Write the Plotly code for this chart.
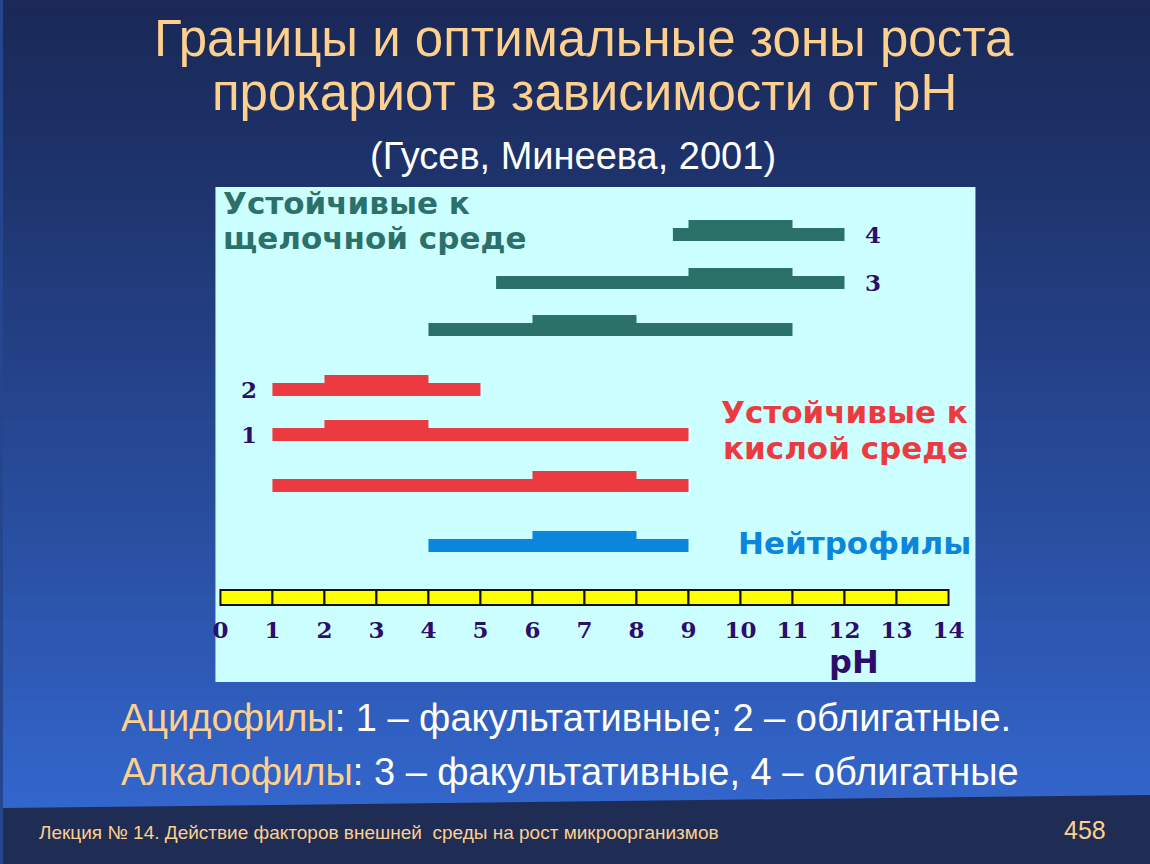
import plotly.graph_objects as go

W, H = 1150, 864

# pH ranges: full growth range and optimum zone, top row first
groups = ["alk4", "alk3", "alk", "acid2", "acid1", "acid", "neutro"]
range_lo = [8.7, 5.3, 4.0, 1.0, 1.0, 1.0, 4.0]
range_hi = [12.0, 12.0, 11.0, 5.0, 9.0, 9.0, 9.0]
opt_lo = [9.0, 9.0, 6.0, 2.0, 2.0, 6.0, 6.0]
opt_hi = [11.0, 11.0, 8.0, 4.0, 4.0, 8.0, 8.0]
row_labels = ["4", "3", "", "2", "1", "", ""]
ph_ticks = list(range(0, 15))

TEAL = "#2c7169"
RED = "#ec3b40"
BLUE = "#0b86dc"
PURPLE = "#2e0c6c"
PEACH = "#fdd08e"

colors = [TEAL, TEAL, TEAL, RED, RED, RED, BLUE]
# bottom edge of each row (y axis runs in screen pixels, top = 0)
row_bottom = [241, 289, 336, 396, 441, 492, 552]
THIN, THICK = 13, 21


def px(x):
    return x / W


def py(y):
    return 1 - y / H


shapes = []
# background gradient, dark navy on top to blue at the bottom
n = 60
top_c, bot_c = (26, 41, 88), (51, 102, 204)
for i in range(n):
    t = (i / (n - 1)) ** 1.1
    c = tuple(int(a + (b - a) * t) for a, b in zip(top_c, bot_c))
    shapes.append(dict(type="rect", xref="paper", yref="paper", layer="below",
                       x0=0, x1=1, y0=py(810 * (i + 1) / n + 1), y1=py(810 * i / n),
                       fillcolor="rgb(%d,%d,%d)" % c, line=dict(width=0)))
# footer band with slanted top
shapes.append(dict(type="path", xref="paper", yref="paper", layer="below",
                   path="M 0 %f L 1 %f L 1 0 L 0 0 Z" % (py(808), py(795)),
                   fillcolor="#1f2d55", line=dict(width=0)))
# chart panel
shapes.append(dict(type="rect", xref="paper", yref="paper", layer="below",
                   x0=px(213), x1=px(975), y0=py(682), y1=py(187),
                   fillcolor="#ccffff", line=dict(width=0)))

fig = go.Figure()

# full growth range (thin)
fig.add_trace(go.Bar(
    orientation="h",
    y=[b - THIN / 2 for b in row_bottom],
    x=[h - l for l, h in zip(range_lo, range_hi)],
    base=range_lo,
    width=THIN,
    marker=dict(color=colors, line=dict(width=0)),
    showlegend=False, hoverinfo="skip",
))
# optimum zone (thick)
fig.add_trace(go.Bar(
    orientation="h",
    y=[b - THICK / 2 for b in row_bottom],
    x=[h - l for l, h in zip(opt_lo, opt_hi)],
    base=opt_lo,
    width=THICK,
    marker=dict(color=colors, line=dict(width=0)),
    showlegend=False, hoverinfo="skip",
))
# pH ruler
fig.add_trace(go.Bar(
    orientation="h",
    y=[597.5] * (len(ph_ticks) - 1),
    x=[1] * (len(ph_ticks) - 1),
    base=ph_ticks[:-1],
    width=15,
    marker=dict(color="#ffff00", line=dict(color="#111111", width=2)),
    showlegend=False, hoverinfo="skip",
))

ann = []
for lab, lo, hi, b in zip(row_labels, range_lo, range_hi, row_bottom):
    if not lab:
        continue
    xpos = hi + 0.55 if lo > 5 else lo - 0.45
    ann.append(dict(x=xpos, y=b - 6, xref="x", yref="y", text="<b>%s</b>" % lab,
                    showarrow=False, yanchor="middle",
                    font=dict(family="DejaVu Serif", size=23, color=PURPLE)))

sans = "Liberation Sans"
bold = "DejaVu Sans"


def note(x, y, text, size, color, family=sans, xanchor="center"):
    ann.append(dict(x=px(x), y=py(y), xref="paper", yref="paper", showarrow=False,
                    xanchor=xanchor, yanchor="middle", text=text,
                    font=dict(family=family, size=size, color=color)))


note(583, 38, "Границы и оптимальные зоны роста", 51, PEACH)
note(583, 93, "прокариот в зависимости от pH", 51, PEACH)
note(571, 156, "(Гусев, Минеева, 2001)", 38, "white")
note(219, 203, "<b>Устойчивые к</b>", 31, TEAL, bold, "left")
note(219, 238, "<b>щелочной среде</b>", 31, TEAL, bold, "left")
note(970, 412, "<b>Устойчивые к</b>", 31, RED, bold, "right")
note(970, 448, "<b>кислой среде</b>", 31, RED, bold, "right")
note(973, 543, "<b>Нейтрофилы</b>", 31, BLUE, bold, "right")
note(853, 662, "<b>pH</b>", 32, PURPLE, bold)
note(116, 718, "<span style='color:%s'>Ацидофилы</span>: 1 – факультативные; 2 – облигатные." % PEACH,
     38, "white", xanchor="left")
note(116, 772, "<span style='color:%s'>Алкалофилы</span>: 3 – факультативные, 4 – облигатные" % PEACH,
     38, "white", xanchor="left")
note(34, 832, "Лекция № 14. Действие факторов внешней  среды на рост микроорганизмов",
     19, PEACH, xanchor="left")
note(1108, 830, "458", 25, PEACH, xanchor="right")

# x axis: pH 0 sits at px 218, pH 14 at px 948
unit = (948 - 218) / 14
fig.update_layout(
    width=W, height=H,
    margin=dict(l=0, r=0, t=0, b=0),
    paper_bgcolor="#26458f",
    plot_bgcolor="rgba(0,0,0,0)",
    barmode="overlay",
    shapes=shapes,
    annotations=ann,
    xaxis=dict(domain=[px(213), px(975)],
               range=[-(218 - 213) / unit, 14 + (975 - 948) / unit],
               tickvals=ph_ticks, ticks="", showgrid=False, zeroline=False, showline=False,
               anchor="free", position=py(614),
               tickfont=dict(family="DejaVu Serif", size=23, color=PURPLE, weight="bold")),
    yaxis=dict(domain=[py(682), py(187)], range=[682, 187],
               visible=False, showgrid=False, zeroline=False),
)

fig.write_html("out.html", config={"displayModeBar": False},
               post_script="document.body.style.margin='0';")
